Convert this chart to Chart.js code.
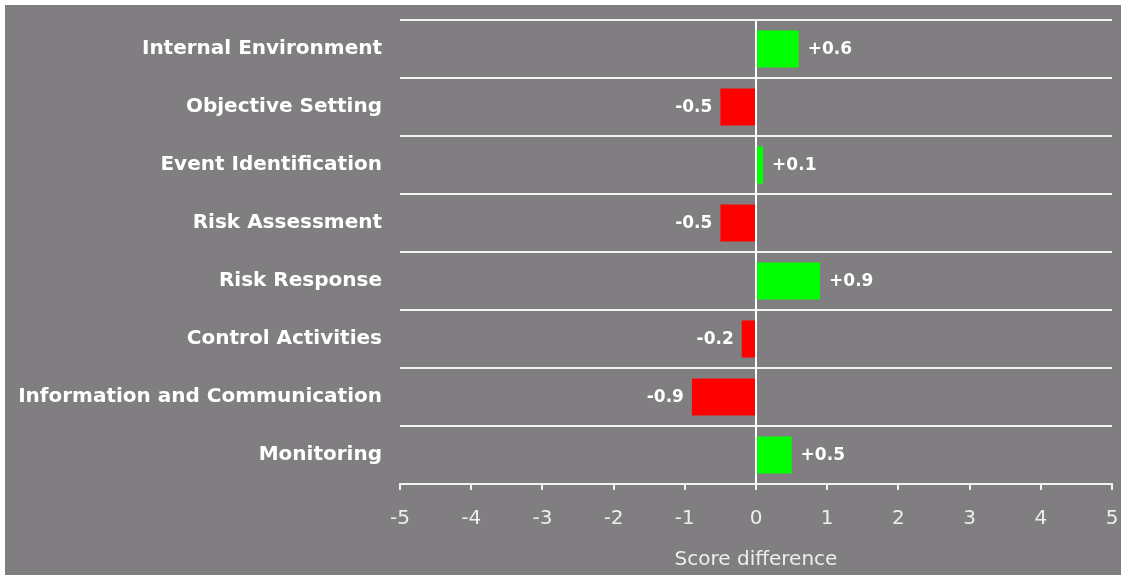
<!DOCTYPE html>
<html>
<head>
<meta charset="utf-8">
<script src="https://cdn.jsdelivr.net/npm/chart.js@4"></script>
<style>
  html, body { margin: 0; padding: 0; background: #ffffff; }
  #wrap { position: absolute; left: 5px; top: 5px; width: 1116px; height: 570px; background: #807e80; }
</style>
</head>
<body>
<div id="wrap"><canvas id="myChart" width="1116" height="570"></canvas></div>
<script>
// data
const categories = ['Internal Environment', 'Objective Setting', 'Event Identification', 'Risk Assessment',
    'Risk Response', 'Control Activities', 'Information and Communication', 'Monitoring'];
const scoreDiff = [0.6, -0.5, 0.1, -0.5, 0.9, -0.2, -0.9, 0.5];
const xTicks = [-5, -4, -3, -2, -1, 0, 1, 2, 3, 4, 5];

const GREEN = '#00ff00';
const RED = '#ff0000';
const LINE = '#f2f2f2';
const FONT = '"DejaVu Sans", Verdana, sans-serif';

// draws the +0.6 / -0.5 labels next to each bar
const valueLabels = {
    id: 'valueLabels',
    afterDatasetsDraw(chart) {
        const ctx = chart.ctx;
        const meta = chart.getDatasetMeta(0);
        ctx.save();
        ctx.font = 'bold 17px ' + FONT;
        ctx.fillStyle = '#ffffff';
        ctx.textBaseline = 'middle';
        meta.data.forEach((bar, i) => {
            const v = scoreDiff[i];
            const txt = v > 0 ? '+' + v.toFixed(1) : v.toFixed(1);
            if (v >= 0) {
                ctx.textAlign = 'left';
                ctx.fillText(txt, bar.x + 9, bar.y + 1);
            } else {
                ctx.textAlign = 'right';
                ctx.fillText(txt, bar.x - 8, bar.y + 1);
            }
        });
        ctx.restore();
    }
};

const data = {
    labels: categories,
    datasets: [{
        label: 'Score difference',
        data: scoreDiff,
        backgroundColor: scoreDiff.map(v => v >= 0 ? GREEN : RED),
        borderWidth: 0,
        barPercentage: 0.64,
        categoryPercentage: 1.0,
    }]
};

const config = {
    type: 'bar',
    data,
    options: {
        indexAxis: 'y',
        responsive: false,
        animation: false,
        layout: { padding: { top: 15, right: 9, bottom: 0, left: 0 } },
        plugins: {
            legend: { display: false },
            tooltip: { enabled: false },
        },
        scales: {
            x: {
                type: 'linear',
                min: -5,
                max: 5,
                afterBuildTicks(axis) { axis.ticks = xTicks.map(v => ({ value: v })); },
                afterFit(axis) {
                    axis.height = 91;
                    axis.paddingLeft = 0;
                    axis.paddingRight = 0;
                },
                border: { display: true, color: LINE, width: 2 },
                grid: {
                    color: c => c.tick && c.tick.value === 0 ? '#ffffff' : 'rgba(0,0,0,0)',
                    lineWidth: 2,
                    tickColor: LINE,
                    tickWidth: 2,
                    tickLength: 6,
                    drawOnChartArea: true,
                },
                ticks: {
                    color: '#eeeeee',
                    font: { family: FONT, size: 20 },
                    padding: 17,
                    maxRotation: 0,
                },
                title: {
                    display: true,
                    text: 'Score difference',
                    color: '#eeeeee',
                    font: { family: FONT, size: 20 },
                    padding: { top: 10, bottom: 3 },
                }
            },
            y: {
                afterFit(axis) {
                    axis.width = 395;
                    axis.paddingTop = 0;
                    axis.paddingBottom = 0;
                },
                border: { display: false },
                grid: {
                    color: LINE,
                    lineWidth: 2,
                    drawTicks: false,
                    offset: true,
                },
                ticks: {
                    color: '#ffffff',
                    font: { family: FONT, size: 20, weight: 'bold' },
                    padding: 18,
                }
            }
        }
    },
    plugins: [valueLabels]
};

const myChart = new Chart(document.getElementById('myChart'), config);
</script>
</body>
</html>
